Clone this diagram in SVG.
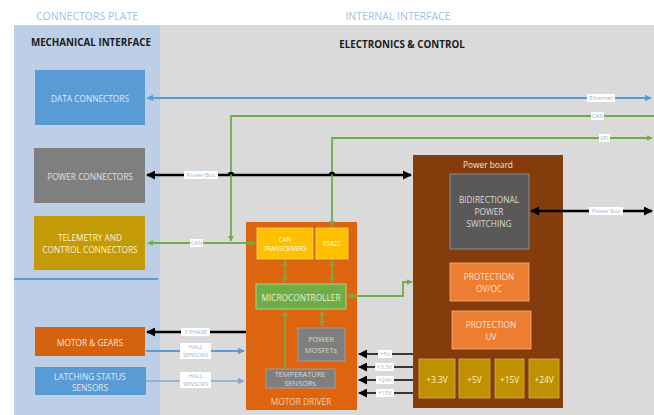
<svg xmlns="http://www.w3.org/2000/svg" width="654" height="415" viewBox="0 0 654 415">
<defs>
<marker id="ab" viewBox="0 0 10 10" refX="9" refY="5" markerWidth="9" markerHeight="9" markerUnits="userSpaceOnUse" orient="auto-start-reverse"><path d="M0,0 L10,5 L0,10 z" fill="#000"/></marker>
<marker id="ag" viewBox="0 0 10 10" refX="9" refY="5" markerWidth="6" markerHeight="6" markerUnits="userSpaceOnUse" orient="auto-start-reverse"><path d="M0,0 L10,5 L0,10 z" fill="#70ad47"/></marker>
<marker id="al" viewBox="0 0 10 10" refX="9" refY="5" markerWidth="7" markerHeight="7" markerUnits="userSpaceOnUse" orient="auto-start-reverse"><path d="M0,0 L10,5 L0,10 z" fill="#5b9bd5"/></marker>
<marker id="al2" viewBox="0 0 10 10" refX="9" refY="5" markerWidth="7" markerHeight="7" markerUnits="userSpaceOnUse" orient="auto-start-reverse"><path d="M0,0 L10,5 L0,10 z" fill="#86a9d3"/></marker>
</defs>
<style>
text{font-family:"Open Sans","Liberation Sans",sans-serif;text-anchor:middle;dominant-baseline:central}
.hd{font-size:10.5px;fill:#9dc3e6}
.ttl{font-size:9.8px;font-weight:bold;fill:#1a1a1a}
.bx{font-size:8.3px}
.md{font-size:7.4px}
.sm{font-size:6.2px}
.lb{font-size:5.8px;fill:#9db6d8}
.lbr{fill:#ffffff}
.k{stroke:#000;stroke-width:2.4;fill:none}
.kt{stroke:#000;stroke-width:1.6;fill:none}
.g{stroke:#70ad47;stroke-width:1.8;fill:none}
.b{stroke:#5b9bd5;stroke-width:1.8;fill:none}
</style>
<rect x="0" y="0" width="654" height="415" fill="#ffffff"/>
<rect x="14" y="25" width="146" height="390" fill="#bccfe6"/>
<rect x="160" y="25" width="494" height="390" fill="#dadada"/>
<line x1="14" y1="279" x2="158" y2="279" stroke="#5b9bd5" stroke-width="2"/>
<text class="hd" x="87" y="16">CONNECTORS PLATE</text>
<text class="hd" x="398" y="16">INTERNAL INTERFACE</text>
<text class="ttl" x="91" y="42">MECHANICAL INTERFACE</text>
<text class="ttl" x="402" y="44">ELECTRONICS &amp; CONTROL</text>

<g id="data-connectors"><rect x="35" y="70" width="110" height="55" fill="#5b9bd5"/><text class="bx" x="90" y="98" fill="#deebf7">DATA CONNECTORS</text></g>
<g id="power-connectors"><rect x="34" y="148" width="111" height="55" fill="#7f7f7f"/><text class="bx" x="90" y="176" fill="#e0e0e0">POWER CONNECTORS</text></g>
<g id="telemetry-connectors"><rect x="34" y="216" width="111" height="54" fill="#c49a06"/><text class="bx" x="90" y="237" fill="#fff2cc">TELEMETRY AND</text><text class="bx" x="90" y="249" fill="#fff2cc">CONTROL CONNECTORS</text></g>
<g id="motor-gears"><rect x="35" y="327" width="110" height="29" fill="#d4620f"/><text class="bx" x="90" y="342" fill="#fbe5d6">MOTOR &amp; GEARS</text></g>
<g id="latching-sensors"><rect x="35" y="367" width="111" height="28" fill="#5b9bd5"/><text class="bx" x="90" y="376" fill="#deebf7">LATCHING STATUS</text><text class="bx" x="90" y="387" fill="#deebf7">SENSORS</text></g>

<g id="motor-driver"><rect x="246" y="222" width="111" height="188" fill="#de6510"/><text class="bx" x="301" y="401" fill="#f8cbad">MOTOR DRIVER</text></g>
<g id="can-transceivers"><rect x="257" y="228" width="56" height="31" fill="#ffc000" stroke="#ffd966" stroke-width="0.8"/><text class="sm" x="285" y="239" fill="#fff">CAN</text><text class="sm" x="285" y="248" fill="#fff">TRANSCEIVERS</text></g>
<g id="rs422"><rect x="316" y="228" width="32" height="31" fill="#ffc000" stroke="#ffd966" stroke-width="0.8"/><text class="sm" x="332" y="243" fill="#fff">RS422</text></g>
<g id="microcontroller"><rect x="256" y="284" width="90" height="25" fill="#70ad47" stroke="#a9d18e" stroke-width="1"/><text class="bx" x="301" y="297" fill="#e2f0d9">MICROCONTROLLER</text></g>
<g id="power-mosfets"><rect x="298" y="328" width="47" height="33" fill="#7f7f7f" stroke="#a6a6a6" stroke-width="0.8"/><text class="md" x="321" y="339" fill="#d9d9d9">POWER</text><text class="md" x="321" y="350" fill="#d9d9d9">MOSFETs</text></g>
<g id="temperature-sensors"><rect x="266" y="369" width="69" height="19" fill="#7f7f7f" stroke="#a6a6a6" stroke-width="0.8"/><text class="md" x="300" y="374" fill="#d9d9d9">TEMPERATURE</text><text class="md" x="300" y="383" fill="#d9d9d9">SENSORs</text></g>

<g id="power-board"><rect x="413" y="155" width="150" height="253" fill="#843c0c"/><text class="bx" x="488" y="164" fill="#fbe5d6">Power board</text></g>
<g id="bidirectional-switching"><rect x="450" y="174" width="79" height="75" fill="#595959" stroke="#8c8c8c" stroke-width="1"/><text class="bx" x="489" y="199" fill="#d9d9d9">BIDIRECTIONAL</text><text class="bx" x="489" y="211" fill="#d9d9d9">POWER</text><text class="bx" x="489" y="223" fill="#d9d9d9">SWITCHING</text></g>
<g id="protection-ovoc"><rect x="450" y="263" width="79" height="38" fill="#ed7d31" stroke="#f4b183" stroke-width="0.8"/><text class="bx" x="489" y="276" fill="#fbe5d6">PROTECTION</text><text class="bx" x="489" y="288" fill="#fbe5d6">OV/OC</text></g>
<g id="protection-uv"><rect x="452" y="311" width="79" height="38" fill="#ed7d31" stroke="#f4b183" stroke-width="0.8"/><text class="bx" x="491" y="324" fill="#fbe5d6">PROTECTION</text><text class="bx" x="491" y="336" fill="#fbe5d6">UV</text></g>
<g id="v33"><rect x="419" y="359" width="36" height="39" fill="#bf9000" stroke="#d6b24a" stroke-width="0.8"/><text class="bx" x="437" y="379" fill="#fff2cc">+3.3V</text></g>
<g id="v5"><rect x="459" y="359" width="31" height="39" fill="#bf9000" stroke="#d6b24a" stroke-width="0.8"/><text class="bx" x="474.5" y="379" fill="#fff2cc">+5V</text></g>
<g id="v15"><rect x="495" y="359" width="29" height="39" fill="#bf9000" stroke="#d6b24a" stroke-width="0.8"/><text class="bx" x="509.5" y="379" fill="#fff2cc">+15V</text></g>
<g id="v24"><rect x="529" y="359" width="30" height="39" fill="#bf9000" stroke="#d6b24a" stroke-width="0.8"/><text class="bx" x="544" y="379" fill="#fff2cc">+24V</text></g>

<g id="connectors">
<path class="b" d="M147,98 H651" marker-start="url(#al)" marker-end="url(#al)"/>
<path class="g" d="M654,116 H231 V241" marker-end="url(#ag)"/>
<path class="g" d="M148,243 H255" marker-start="url(#ag)" marker-end="url(#ag)"/>
<path class="g" d="M332,226 V138 H652" marker-start="url(#ag)" marker-end="url(#ag)"/>
<path class="k" d="M147,175 H229 a2,2 0 0 1 4,0 H330 a2,2 0 0 1 4,0 H411" marker-start="url(#ab)" marker-end="url(#ab)"/>
<path class="k" d="M531,211 H652" marker-start="url(#ab)" marker-end="url(#ab)"/>
<path class="g" d="M285,261 V282" marker-start="url(#ag)" marker-end="url(#ag)"/>
<path class="g" d="M332,261 V282" marker-start="url(#ag)" marker-end="url(#ag)"/>
<path class="g" d="M322,311 V326" marker-start="url(#ag)" marker-end="url(#ag)"/>
<path class="g" d="M285,369 V311" marker-end="url(#ag)"/>
<path class="g" d="M348,296 H403 V282 H412" marker-start="url(#ag)" marker-end="url(#ag)"/>
<path class="k" d="M246,332 H147" marker-end="url(#ab)"/>
<path class="b" d="M146,351 H244" marker-end="url(#al)"/>
<path d="M146,381 H244" stroke="#86a9d3" stroke-width="1.6" fill="none" marker-end="url(#al2)"/>
<path class="kt" d="M413,354 H359" marker-end="url(#ab)"/>
<path class="kt" d="M413,367 H359" marker-end="url(#ab)"/>
<path class="kt" d="M413,380 H359" marker-end="url(#ab)"/>
<path class="kt" d="M413,393 H359" marker-end="url(#ab)"/>
<g id="connector-labels">
<rect class="lbr" x="587" y="94" width="28" height="8"/><text class="lb" x="601" y="98">Ethernet</text>
<rect class="lbr" x="591" y="112" width="13" height="8"/><text class="lb" x="597.5" y="116">CAN</text>
<rect class="lbr" x="599" y="134" width="11" height="8"/><text class="lb" x="604.5" y="138">SPI</text>
<rect class="lbr" x="184" y="171" width="34" height="8"/><text class="lb" x="201" y="175">Power Bus</text>
<rect class="lbr" x="589" y="207" width="34" height="8"/><text class="lb" x="606" y="211">Power Bus</text>
<rect class="lbr" x="190" y="239" width="13" height="8"/><text class="lb" x="196.5" y="243">CAN</text>
<rect class="lbr" x="181" y="328" width="29" height="8"/><text class="lb" x="195.5" y="332">3 PHASE</text>
<rect class="lbr" x="180" y="343" width="31" height="16"/><text class="lb" x="195.5" y="347">HALL</text><text class="lb" x="195.5" y="355">SENSORS</text>
<rect class="lbr" x="180" y="372" width="31" height="16"/><text class="lb" x="195.5" y="376">HALL</text><text class="lb" x="195.5" y="384">SENSORS</text>
<rect class="lbr" x="378" y="350" width="14" height="8"/><text class="lb" x="385" y="354">+5V</text>
<rect class="lbr" x="375" y="363" width="19" height="8"/><text class="lb" x="384.5" y="367">+3.3V</text>
<rect class="lbr" x="376" y="376" width="18" height="8"/><text class="lb" x="385" y="380">+24V</text>
<rect class="lbr" x="376" y="389" width="18" height="8"/><text class="lb" x="385" y="393">+15V</text>
</g>
</g>
</svg>
